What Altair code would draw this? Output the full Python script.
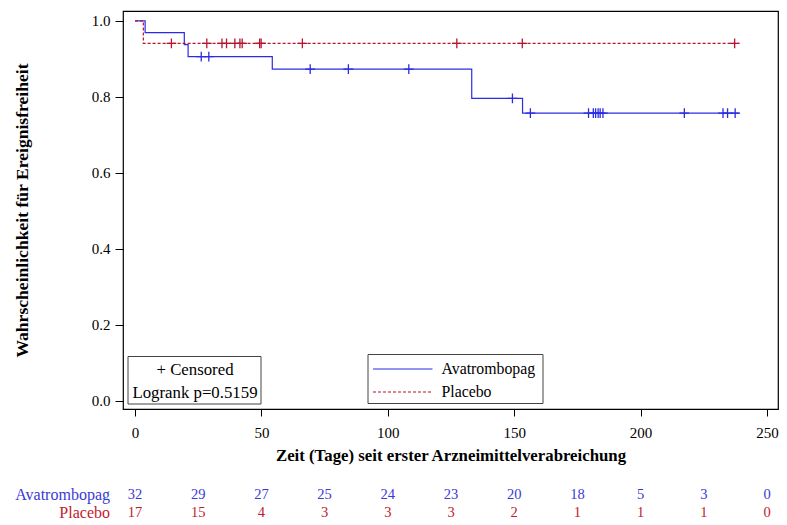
import altair as alt
import pandas as pd

FONT = "Liberation Serif"
BLUE = "#2b2be3"
RED = "#b8132f"
BLUE_T = "#3a3ad6"
RED_T = "#bf1a30"

# Kaplan-Meier step curves (time in days, survival)
avat_times = [0, 4, 19.5, 21, 54.3, 133.2, 153.3, 239]
avat_surv = [1.0, 0.969, 0.9375, 0.906, 0.873, 0.796, 0.757, 0.757]
plac_times = [0, 3.3, 239]
plac_surv = [1.0, 0.941, 0.941]

# censored observations
avat_cens_t = [26.2, 29.2, 69.3, 84.4, 108.3, 149.3, 156.4, 179.4, 181.3, 182.2,
               183.2, 184.0, 185.1, 217.3, 232.6, 234.4, 237.4]
avat_cens_s = [0.906, 0.906, 0.873, 0.873, 0.873, 0.796, 0.757, 0.757, 0.757, 0.757,
               0.757, 0.757, 0.757, 0.757, 0.757, 0.757, 0.757]
plac_cens_t = [14.4, 28.4, 34.4, 36.2, 39.5, 41.5, 42.4, 49.3, 49.9, 66.2, 127.3, 153.2, 237.2]
plac_cens_s = [0.941] * len(plac_cens_t)

# numbers at risk
risk_days = [0, 25, 50, 75, 100, 125, 150, 175, 200, 225, 250]
avat_risk = [32, 29, 27, 25, 24, 23, 20, 18, 5, 3, 0]
plac_risk = [17, 15, 4, 3, 3, 3, 2, 1, 1, 1, 0]

groups = ["Avatrombopag", "Placebo"]
x_ticks = [0, 50, 100, 150, 200, 250]
y_ticks = [0.0, 0.2, 0.4, 0.6, 0.8, 1.0]
box_lines = ["+ Censored", "Logrank p=0.5159"]

curve_df = pd.DataFrame(
    {"t": avat_times + plac_times,
     "s": avat_surv + plac_surv,
     "g": ["Avatrombopag"] * len(avat_times) + ["Placebo"] * len(plac_times)}
)
cens_df = pd.DataFrame(
    {"t": avat_cens_t + plac_cens_t,
     "s": avat_cens_s + plac_cens_s,
     "g": ["Avatrombopag"] * len(avat_cens_t) + ["Placebo"] * len(plac_cens_t)}
)
risk_a = pd.DataFrame({"t": risk_days, "n": avat_risk})
risk_p = pd.DataFrame({"t": risk_days, "n": plac_risk})

xscale = alt.Scale(domain=[-4.75, 254.35], nice=False, zero=False)
yscale = alt.Scale(domain=[-0.022, 1.026], nice=False, zero=False)
cscale = alt.Scale(domain=groups, range=[BLUE, RED])
dscale = alt.Scale(domain=groups, range=[[1, 0], [3, 2]])

xaxis = alt.Axis(values=x_ticks, title="Zeit (Tage) seit erster Arzneimittelverabreichung",
                 grid=False, domain=False, tickColor="black", tickSize=7,
                 labelFontSize=15, labelColor="black", labelPadding=9.5,
                 titleFontSize=16.8, titleFontWeight="bold", titleColor="black",
                 titlePadding=7)
yaxis = alt.Axis(values=y_ticks, format=".1f", title="Wahrscheinlichkeit für Ereignisfreiheit",
                 grid=False, domain=False, tickColor="black", tickSize=8,
                 labelFontSize=15, labelColor="black", labelPadding=5,
                 titleFontSize=17.6, titleFontWeight="bold", titleColor="black",
                 titlePadding=60)

lines = alt.Chart(curve_df).mark_line(interpolate="step-after", strokeWidth=1.2).encode(
    x=alt.X("t:Q", scale=xscale, axis=xaxis),
    y=alt.Y("s:Q", scale=yscale, axis=yaxis),
    color=alt.Color("g:N", scale=cscale, legend=None),
    strokeDash=alt.StrokeDash("g:N", scale=dscale, legend=None),
)

cens = alt.Chart(cens_df).mark_point(
    shape="M-1,0L1,0M0,-1L0,1", size=95, filled=False, strokeWidth=1.3, opacity=1
).encode(
    x=alt.X("t:Q", scale=xscale),
    y=alt.Y("s:Q", scale=yscale, axis=None),
    color=alt.Color("g:N", scale=cscale, legend=None),
)

# censored / logrank box
box1 = alt.Chart(pd.DataFrame({"a": [0]})).mark_rect(
    fill="white", stroke="#444", strokeWidth=1
).encode(x=alt.value(5), x2=alt.value(138), y=alt.value(345.5), y2=alt.value(393))
box1_txt = alt.Chart(pd.DataFrame({"txt": box_lines, "i": [0, 1]})).mark_text(
    fontSize=16.8, color="black", align="center", baseline="middle"
).encode(
    x=alt.value(72),
    y=alt.Y("i:Q", scale=alt.Scale(domain=[0, 1], range=[358.5, 381.5]), axis=None),
    text="txt:N",
)

# line legend box
box2 = alt.Chart(pd.DataFrame({"a": [0]})).mark_rect(
    fill="white", stroke="#444", strokeWidth=1
).encode(x=alt.value(245), x2=alt.value(420), y=alt.value(343.5), y2=alt.value(392.5))
leg_df = pd.DataFrame({"g": groups, "i": [0, 1]})
leg_y = alt.Y("i:Q", scale=alt.Scale(domain=[0, 1], range=[358, 381]), axis=None)
leg_lines = alt.Chart(leg_df).mark_rule(strokeWidth=1.2).encode(
    x=alt.value(250), x2=alt.value(309.5), y=leg_y,
    color=alt.Color("g:N", scale=cscale, legend=None),
    strokeDash=alt.StrokeDash("g:N", scale=dscale, legend=None),
)
leg_txt = alt.Chart(leg_df).mark_text(
    fontSize=15.8, color="black", align="left", baseline="middle"
).encode(x=alt.value(318.5), y=leg_y, text="g:N")

# numbers at risk table
risk_a_txt = alt.Chart(risk_a).mark_text(
    fontSize=14.5, color=BLUE_T, align="center", baseline="middle"
).encode(x=alt.X("t:Q", scale=xscale), y=alt.value(484), text="n:Q")
risk_p_txt = alt.Chart(risk_p).mark_text(
    fontSize=14.5, color=RED_T, align="center", baseline="middle"
).encode(x=alt.X("t:Q", scale=xscale), y=alt.value(502), text="n:Q")
row_lab = pd.DataFrame({"g": groups, "c": [BLUE_T, RED_T], "i": [0, 1]})
row_txt = alt.Chart(row_lab).mark_text(
    fontSize=16, align="right", baseline="middle"
).encode(
    x=alt.value(-13),
    y=alt.Y("i:Q", scale=alt.Scale(domain=[0, 1], range=[484, 502]), axis=None),
    text="g:N",
    color=alt.Color("c:N", scale=None),
)

chart = alt.layer(
    lines, cens, box1, box1_txt, box2, leg_lines, leg_txt, risk_a_txt, risk_p_txt, row_txt
).resolve_scale(y="independent").resolve_axis(y="independent").properties(
    width=655, height=398,
    autosize=alt.AutoSizeParams(type="none"),
    padding={"left": 115, "top": 3, "right": 1, "bottom": 112},
).configure(font=FONT).configure_axis(labelFont=FONT, titleFont=FONT).configure_text(
    font=FONT
).configure_view(stroke="black", strokeWidth=1.2)

chart.save("out.html", embed_options={"renderer": "svg", "actions": False})
